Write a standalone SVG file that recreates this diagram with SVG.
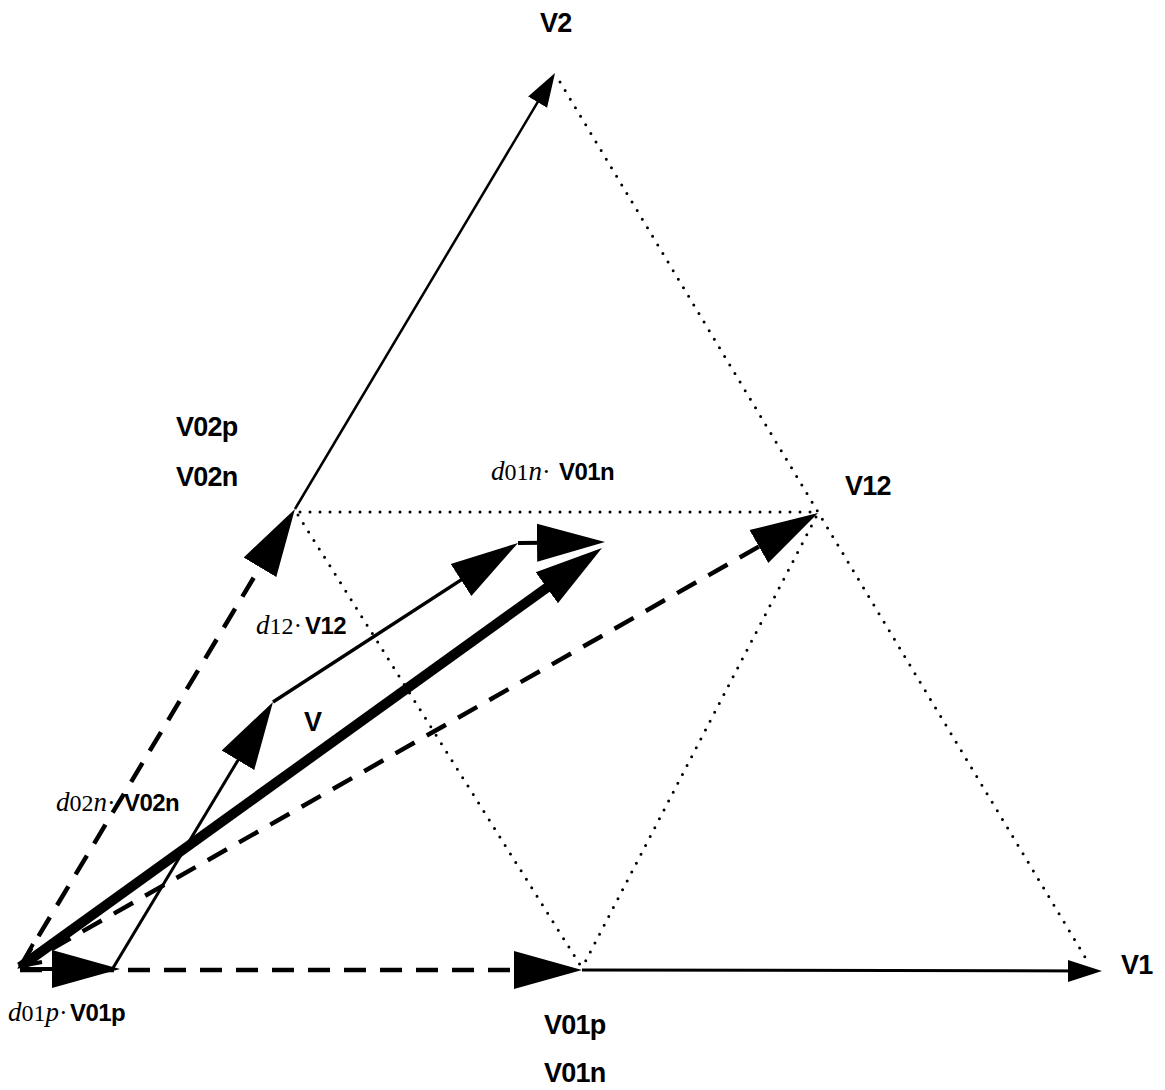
<svg xmlns="http://www.w3.org/2000/svg" width="1165" height="1090" viewBox="0 0 1165 1090">
<style>
.dot{fill:none;stroke:#000;stroke-width:3;stroke-dasharray:0 10;stroke-linecap:round}
.dash{fill:none;stroke:#000;stroke-width:4.5;stroke-dasharray:22 14}
.solid{fill:none;stroke:#000}
.lb{font-family:"Liberation Sans",Arial,sans-serif;font-weight:bold;font-size:27px;letter-spacing:-0.8px;fill:#000}
.ib{font-family:"Liberation Sans",Arial,sans-serif;font-weight:bold;font-size:24px;letter-spacing:-0.6px}
.it{font-family:"Liberation Serif","Times New Roman",serif;font-style:italic;font-size:27px}
.up{font-family:"Liberation Serif","Times New Roman",serif;font-size:24px}
.md{font-family:"Liberation Serif","Times New Roman",serif;font-size:26px}
</style>
<defs>
<marker id="big" markerUnits="userSpaceOnUse" viewBox="0 -20 68 40" markerWidth="68" markerHeight="40" refX="36" refY="0" orient="auto"><path d="M0,-19 L68,0 L0,19 z" fill="#000"/></marker>
<marker id="small" markerUnits="userSpaceOnUse" viewBox="0 -12 34 24" markerWidth="34" markerHeight="24" refX="24" refY="0" orient="auto"><path d="M0,-11 L34,0 L0,11 z" fill="#000"/></marker>
</defs>
<rect width="1165" height="1090" fill="#fff"/>
<g id="connectors">
<line class="dot" x1="300" y1="512" x2="815" y2="512"/>
<line class="dot" x1="298" y1="515" x2="582" y2="968"/>
<line class="dot" x1="816" y1="517" x2="582" y2="968"/>
<line class="dot" x1="560" y1="82" x2="1088" y2="962"/>
<line class="dash" x1="20" y1="970" x2="550" y2="970" marker-end="url(#big)"/>
<line class="dash" x1="20" y1="967" x2="278.5" y2="536.4" marker-end="url(#big)"/>
<line class="dash" x1="20" y1="967" x2="790.2" y2="528.8" marker-end="url(#big)"/>
<line class="solid" stroke-width="2.5" x1="295" y1="509" x2="549.9" y2="81.6" marker-end="url(#small)"/>
<line class="solid" stroke-width="3" x1="582" y1="970" x2="1092" y2="971" marker-end="url(#small)"/>
<line class="solid" stroke-width="4" x1="20" y1="969" x2="88" y2="969" marker-end="url(#big)"/>
<line class="solid" stroke-width="3" x1="113" y1="968" x2="256.5" y2="729.4" marker-end="url(#big)"/>
<line class="solid" stroke-width="3.5" x1="273" y1="702" x2="491.2" y2="560.4" marker-end="url(#big)"/>
<line class="solid" stroke-width="4" x1="518" y1="543" x2="573" y2="542.4" marker-end="url(#big)"/>
<line class="solid" stroke-width="10" x1="20" y1="967" x2="576" y2="566.7" marker-end="url(#big)"/>
<polyline class="solid" stroke-width="4" points="33,944 21,966 42,962"/>
</g>
<g id="node-V2"><text class="lb" x="540" y="32">V2</text></g>
<g id="node-V1"><text class="lb" x="1121" y="974">V1</text></g>
<g id="node-V12"><text class="lb" x="845" y="495">V12</text></g>
<g id="node-V02"><text class="lb" x="176" y="436">V02p</text><text class="lb" x="176" y="486">V02n</text></g>
<g id="node-V01"><text class="lb" x="544" y="1034">V01p</text><text class="lb" x="544" y="1082">V01n</text></g>
<g id="node-V"><text class="lb" x="304" y="731">V</text></g>
<g id="label-d01n"><text x="491" y="480"><tspan class="it">d</tspan><tspan class="up">01</tspan><tspan class="it">n</tspan><tspan class="md">·</tspan><tspan class="ib" x="559">V01n</tspan></text></g>
<g id="label-d12"><text x="256" y="634"><tspan class="it">d</tspan><tspan class="up">12</tspan><tspan class="md">·</tspan><tspan class="ib" x="305">V12</tspan></text></g>
<g id="label-d02n"><text x="56" y="811"><tspan class="it">d</tspan><tspan class="up">02</tspan><tspan class="it">n</tspan><tspan class="md">·</tspan><tspan class="ib" x="124">V02n</tspan></text></g>
<g id="label-d01p"><text x="8" y="1021"><tspan class="it">d</tspan><tspan class="up">01</tspan><tspan class="it">p</tspan><tspan class="md">·</tspan><tspan class="ib" x="70">V01p</tspan></text></g>
</svg>
